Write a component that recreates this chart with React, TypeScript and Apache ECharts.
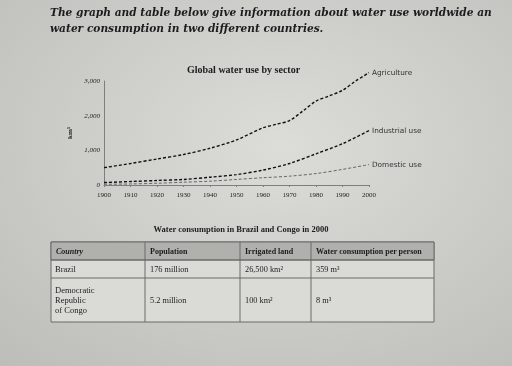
import React, { useEffect, useRef } from "react";
import * as echarts from "echarts";

const introLines = [
  "The graph and table below give information about water use worldwide an",
  "water consumption in two different countries.",
];
const chartTitle = "Global water use by sector";
const yAxisName = "km³";
const yTicks = [0, 1000, 2000, 3000];

const agriYears = [1900, 1910, 1920, 1930, 1940, 1950, 1960, 1965, 1970, 1975, 1980, 1985, 1990, 1995, 2000];
const agriValues = [500, 620, 750, 880, 1060, 1300, 1650, 1750, 1860, 2130, 2420, 2570, 2730, 3000, 3240];

const decadeYears = [1900, 1910, 1920, 1930, 1940, 1950, 1960, 1970, 1980, 1990, 2000];
const industrialValues = [70, 100, 130, 160, 225, 300, 430, 620, 900, 1190, 1570];
const domesticValues = [20, 30, 50, 80, 110, 160, 210, 255, 330, 450, 590];

const seriesNames = ["Agriculture", "Industrial use", "Domestic use"];

const tableTitle = "Water consumption in Brazil and Congo in 2000";
const tableHeader = ["Country", "Population", "Irrigated land", "Water consumption per person"];
const tableRows = [
  [["Brazil"], "176 million", "26,500 km²", "359 m³"],
  [["Democratic", "Republic", "of Congo"], "5.2 million", "100 km²", "8 m³"],
];

export default function App() {
  const ref = useRef<HTMLDivElement>(null);
  useEffect(() => {
    if (!ref.current) return;
    const chart = echarts.init(ref.current, null, { renderer: "svg" });

    const tL = 51, tR = 434, tTop = 242, hB = 260, r1B = 278, tB = 322;
    const cols = [tL, 145, 240, 311, tR];
    const lineColor = "#6a6a68";
    const serif = "Liberation Serif";

    const graphic: any[] = [];
    introLines.forEach((t, i) => {
      graphic.push({
        type: "text", x: 50, y: 12 + i * 16,
        style: { text: t, font: "italic bold 10.6px 'DejaVu Serif'", fill: "#1c1c1c", textVerticalAlign: "middle" },
      });
    });
    graphic.push({
      type: "text", x: 241, y: 229,
      style: { text: tableTitle, font: `bold 8.5px '${serif}'`, fill: "#1c1c1c", textAlign: "center", textVerticalAlign: "middle" },
    });
    graphic.push({
      type: "rect", shape: { x: tL, y: tTop, width: tR - tL, height: tB - tTop },
      style: { fill: "#dadad6", stroke: lineColor, lineWidth: 1 },
    });
    graphic.push({
      type: "rect", shape: { x: tL, y: tTop, width: tR - tL, height: hB - tTop },
      style: { fill: "#b0b0ad", stroke: lineColor, lineWidth: 1 },
    });
    [hB, r1B].forEach((y) => {
      graphic.push({ type: "line", shape: { x1: tL, y1: y, x2: tR, y2: y }, style: { stroke: lineColor, lineWidth: 1 } });
    });
    cols.slice(1, 4).forEach((x) => {
      graphic.push({ type: "line", shape: { x1: x, y1: tTop, x2: x, y2: tB }, style: { stroke: lineColor, lineWidth: 1 } });
    });
    tableHeader.forEach((h, i) => {
      graphic.push({
        type: "text", x: cols[i] + 5, y: (tTop + hB) / 2,
        style: { text: h, font: `${i === 0 ? "italic " : ""}bold 8px '${serif}'`, fill: "#1c1c1c", textVerticalAlign: "middle" },
      });
    });
    const rowBounds = [[hB, r1B], [r1B, tB]];
    tableRows.forEach((row, ri) => {
      const [y0, y1] = rowBounds[ri];
      const mid = (y0 + y1) / 2;
      row.forEach((cell, ci) => {
        if (Array.isArray(cell)) {
          const n = cell.length;
          cell.forEach((ln, li) => {
            graphic.push({
              type: "text", x: cols[ci] + 4, y: mid + (li - (n - 1) / 2) * 10,
              style: { text: ln, font: `8.5px '${serif}'`, fill: "#222", textVerticalAlign: "middle" },
            });
          });
        } else {
          graphic.push({
            type: "text", x: cols[ci] + 5, y: mid,
            style: { text: cell, font: `8.3px '${serif}'`, fill: "#222", textVerticalAlign: "middle" },
          });
        }
      });
    });

    const endLabel = (name: string) => ({
      show: true, formatter: name, fontFamily: "DejaVu Sans", fontSize: 7.3, color: "#333", distance: 3,
    });

    chart.setOption({
      animation: false,
      backgroundColor: {
        type: "radial", x: 0.55, y: 0.4, r: 0.8,
        colorStops: [{ offset: 0, color: "#dcdcd8" }, { offset: 1, color: "#bdbeba" }],
      },
      title: {
        text: chartTitle, left: 182, top: 59,
        textStyle: { fontFamily: serif, fontWeight: "bold", fontSize: 10, color: "#1c1c1c" },
      },
      grid: { left: 104, right: 143, top: 81, bottom: 181 },
      xAxis: {
        type: "value", min: 1900, max: 2000, interval: 10,
        axisLine: { lineStyle: { color: "#7e7e7c", width: 1 } },
        axisTick: { show: true, length: 2, lineStyle: { color: "#7e7e7c" } },
        axisLabel: { fontFamily: serif, fontSize: 7, color: "#1e1e1e", margin: 6, formatter: (v: number) => String(v) },
        splitLine: { show: false },
      },
      yAxis: {
        type: "value", min: yTicks[0], max: yTicks[yTicks.length - 1], interval: 1000,
        name: yAxisName, nameLocation: "middle", nameRotate: 90, nameGap: 28,
        nameTextStyle: { fontFamily: serif, fontWeight: "bold", fontSize: 7, color: "#1c1c1c" },
        axisLine: { show: true, lineStyle: { color: "#7e7e7c", width: 1 } },
        axisTick: { show: false },
        axisLabel: {
          fontFamily: serif, fontStyle: "italic", fontSize: 7, color: "#222", margin: 4,
          formatter: (v: number) => v.toLocaleString("en-US"),
        },
        splitLine: { show: false },
      },
      series: [
        {
          name: seriesNames[0], type: "line", smooth: 0.3, showSymbol: false, clip: false,
          data: agriYears.map((y, i) => [y, agriValues[i]]),
          lineStyle: { color: "#111", width: 1.4, type: [3, 2] },
          endLabel: endLabel(seriesNames[0]),
        },
        {
          name: seriesNames[1], type: "line", smooth: 0.3, showSymbol: false, clip: false,
          data: decadeYears.map((y, i) => [y, industrialValues[i]]),
          lineStyle: { color: "#111", width: 1.4, type: [3, 2] },
          endLabel: endLabel(seriesNames[1]),
        },
        {
          name: seriesNames[2], type: "line", smooth: 0.3, showSymbol: false, clip: false,
          data: decadeYears.map((y, i) => [y, domesticValues[i]]),
          lineStyle: { color: "#666", width: 1, type: [3, 2] },
          endLabel: endLabel(seriesNames[2]),
        },
      ],
      graphic,
    });
    return () => chart.dispose();
  }, []);
  return (
    <div
      ref={ref}
      style={{ position: "fixed", left: 0, top: 0, width: 512, height: 366 }}
    />
  );
}
